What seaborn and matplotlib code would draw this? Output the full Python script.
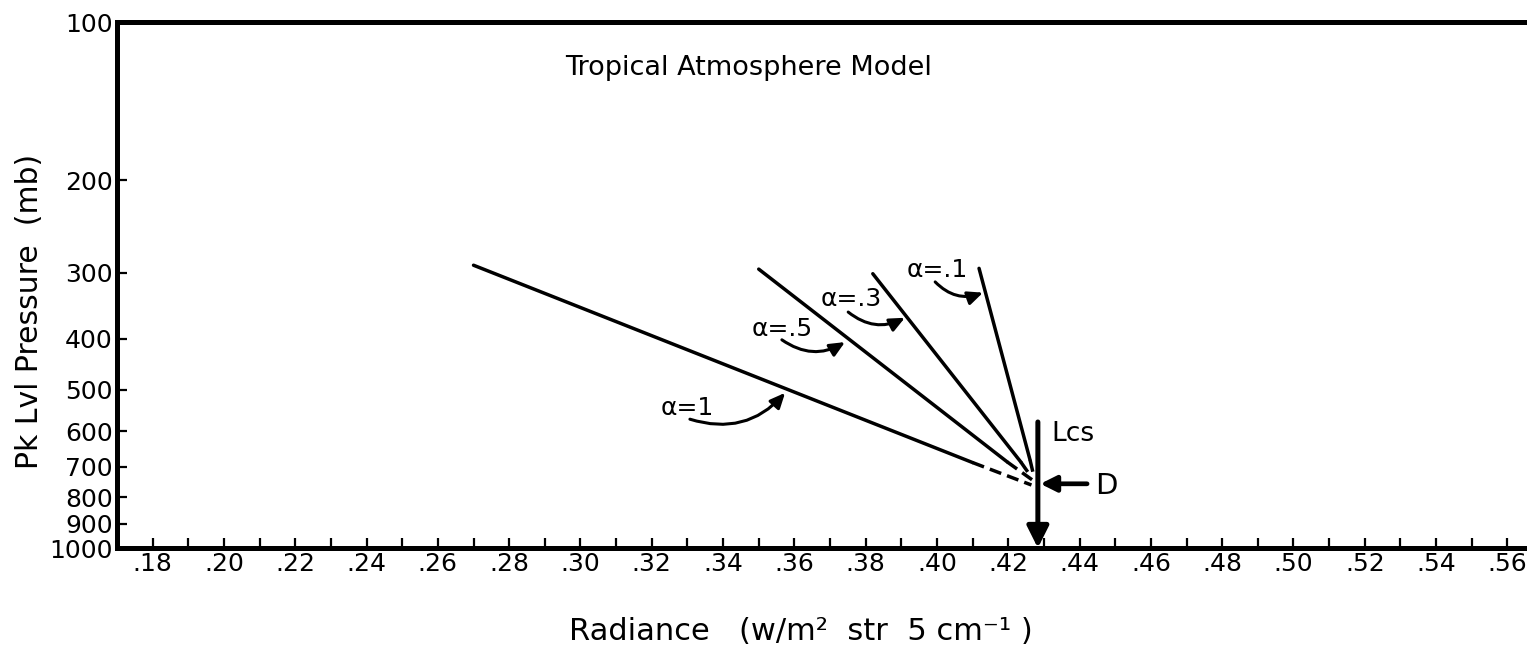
import pandas as pd
import matplotlib.pyplot as plt
import seaborn as sns
from matplotlib.patches import ArrowStyle
from matplotlib.ticker import NullLocator

# values (radiance, peak level pressure in mb)
alpha_labels = ["α=1", "α=.5", "α=.3", "α=.1"]
start_rad = [0.270, 0.350, 0.382, 0.4118]
start_p = [290, 295, 301, 294]
solid_end_rad = [0.410, 0.4197, 0.4235, 0.4261]
solid_end_p = [688, 686, 686, 680]
end_rad = [0.4265, 0.4267, 0.4261, 0.4269]
end_p = [759, 742, 727, 717]

# label text and curved pointer arrows
label_rad = [0.3299, 0.3565, 0.3759, 0.4000]
label_p = [542, 383, 336, 296]
arrow_from_rad = [0.3307, 0.3565, 0.3751, 0.3995]
arrow_from_p = [569, 402, 356, 312]
arrow_to_rad = [0.3574, 0.3742, 0.3910, 0.4129]
arrow_to_p = [507, 406, 365, 327]

# clear sky radiance marker and D arrow
lcs_rad = 0.4283
lcs_p = [576, 1000]
d_p = 755
d_rad = [0.4421, 0.4290]

x_major = [0.18, 0.20, 0.22, 0.24, 0.26, 0.28, 0.30, 0.32, 0.34, 0.36,
           0.38, 0.40, 0.42, 0.44, 0.46, 0.48, 0.50, 0.52, 0.54, 0.56]
x_minor = [0.19, 0.21, 0.23, 0.25, 0.27, 0.29, 0.31, 0.33, 0.35, 0.37,
           0.39, 0.41, 0.43, 0.45, 0.47, 0.49, 0.51, 0.53, 0.55]
y_ticks = [100, 200, 300, 400, 500, 600, 700, 800, 900, 1000]

# long-form table: solid part and dashed extrapolation of each line
rows = []
for i, lab in enumerate(alpha_labels):
    rows.append((lab + "s", "solid", start_rad[i], start_p[i]))
    rows.append((lab + "s", "solid", solid_end_rad[i], solid_end_p[i]))
    rows.append((lab + "d", "dashed", solid_end_rad[i], solid_end_p[i]))
    rows.append((lab + "d", "dashed", end_rad[i], end_p[i]))
df = pd.DataFrame(rows, columns=["curve", "part", "radiance", "pressure"])

sns.set_style("ticks", {"xtick.direction": "in", "ytick.direction": "in"})
plt.rcParams['font.family'] = ['DejaVu Sans']
plt.rcParams['text.color'] = 'black'
plt.rcParams['axes.labelcolor'] = 'black'
plt.rcParams['xtick.color'] = 'black'
plt.rcParams['ytick.color'] = 'black'

fig = plt.figure(figsize=(15.27, 6.53), dpi=100)
ax = fig.add_axes([117 / 1527, 1 - 548 / 653, 1410 / 1527, 526 / 653])
ax.set_yscale('log')

sns.lineplot(data=df, x="radiance", y="pressure", units="curve", estimator=None,
             style="part", dashes={"solid": "", "dashed": (3.5, 1.8)},
             color="black", linewidth=2.5, sort=False, legend=False, ax=ax)

ax.set_xlim(0.17, 0.5655)
ax.set_ylim(1000, 100)

ax.set_xticks(x_major)
ax.set_xticklabels(["." + f"{v:.2f}".split(".")[1] for v in x_major])
ax.set_xticks(x_minor, minor=True)
ax.set_yticks(y_ticks)
ax.set_yticklabels([str(v) for v in y_ticks])
ax.yaxis.set_minor_locator(NullLocator())
ax.tick_params(which='both', direction='in', length=7, width=1.6, color='black',
               labelcolor='black', labelsize=18, pad=3, top=False, right=False)

for side in ['left', 'top', 'bottom']:
    ax.spines[side].set_linewidth(3.6)
    ax.spines[side].set_color('black')
ax.spines['right'].set_visible(False)

# alpha labels and curved pointers
for i, lab in enumerate(alpha_labels):
    ax.text(label_rad[i], label_p[i], lab, fontsize=18, ha='center', va='center')
    ax.annotate("", xy=(arrow_to_rad[i], arrow_to_p[i]),
                xytext=(arrow_from_rad[i], arrow_from_p[i]),
                arrowprops=dict(arrowstyle=ArrowStyle("-|>", head_length=1.0, head_width=0.45),
                                mutation_scale=9, lw=2.2, color='black',
                                shrinkA=0, shrinkB=0,
                                connectionstyle="arc3,rad=0.32"))

# L_cs arrow down to the axis
ax.annotate("", xy=(lcs_rad, lcs_p[1]), xytext=(lcs_rad, lcs_p[0]),
            arrowprops=dict(arrowstyle=ArrowStyle("-|>", head_length=1.0, head_width=0.5),
                            mutation_scale=13, lw=3.6, color='black',
                            shrinkA=0, shrinkB=0), annotation_clip=False)
ax.text(0.4320, 607, "Lcs", fontsize=19, ha='left', va='center')

# D arrow
ax.annotate("", xy=(d_rad[1], d_p), xytext=(d_rad[0], d_p),
            arrowprops=dict(arrowstyle=ArrowStyle("-|>", head_length=1.0, head_width=0.5),
                            mutation_scale=9.5, lw=3.4, color='black',
                            shrinkA=0, shrinkB=0))
ax.text(0.4445, 762, "D", fontsize=21, ha='left', va='center')

ax.text(0.448, 0.9125, "Tropical Atmosphere Model", fontsize=19.5,
        ha='center', va='center', transform=ax.transAxes)

ax.set_xlabel("Radiance   (w/m²  str  5 cm⁻¹ )", fontsize=22, va='baseline', ha='center')
ax.xaxis.set_label_coords(0.485, -0.1749)
ax.set_ylabel("Pk Lvl Pressure  (mb)", fontsize=21.5, va='center', ha='center')
ax.yaxis.set_label_coords(-0.0624, 0.4506)

fig.savefig("out.png", dpi=100)
